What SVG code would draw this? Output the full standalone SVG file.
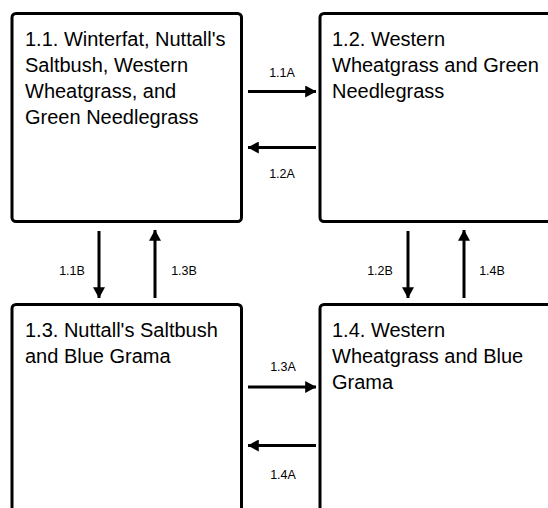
<svg xmlns="http://www.w3.org/2000/svg" width="548" height="508" viewBox="0 0 548 508">
<defs>
<marker id="ah" markerWidth="4" markerHeight="4" refX="3.6" refY="2" orient="auto" markerUnits="strokeWidth">
<path d="M0,0 L3.7,2 L0,4 Z" fill="#000"/>
</marker>
<style>
.box{fill:#fff;stroke:#000;stroke-width:3}
.t{font-family:"Liberation Sans",Arial,sans-serif;font-size:20px;fill:#000}
.l{font-family:"Liberation Sans",Arial,sans-serif;font-size:12.5px;fill:#000;text-anchor:middle}
.c{stroke:#000;stroke-width:3;fill:none;marker-end:url(#ah)}
</style>
</defs>
<rect width="548" height="508" fill="#fff"/>
<g id="n11">
<rect class="box" x="12" y="13.5" width="229.5" height="208" rx="4"/>
<text class="t" x="25" y="46">1.1. Winterfat, Nuttall's</text>
<text class="t" x="25" y="72">Saltbush, Western</text>
<text class="t" x="25" y="98">Wheatgrass, and</text>
<text class="t" x="25" y="124">Green Needlegrass</text>
</g>
<g id="n12">
<rect class="box" x="320" y="13.5" width="240" height="208" rx="4"/>
<text class="t" x="332" y="46">1.2. Western</text>
<text class="t" x="332" y="72">Wheatgrass and Green</text>
<text class="t" x="332" y="98">Needlegrass</text>
</g>
<g id="n13">
<rect class="box" x="12" y="304.5" width="229.5" height="220" rx="4"/>
<text class="t" x="25" y="337">1.3. Nuttall's Saltbush</text>
<text class="t" x="25" y="363">and Blue Grama</text>
</g>
<g id="n14">
<rect class="box" x="320" y="304.5" width="240" height="220" rx="4"/>
<text class="t" x="332" y="337">1.4. Western</text>
<text class="t" x="332" y="363">Wheatgrass and Blue</text>
<text class="t" x="332" y="389">Grama</text>
</g>
<g id="connectors">
<line class="c" x1="248" y1="91.5" x2="316" y2="91.5"/>
<line class="c" x1="316" y1="147.5" x2="248" y2="147.5"/>
<line class="c" x1="99" y1="231" x2="99" y2="298"/>
<line class="c" x1="155" y1="298" x2="155" y2="230"/>
<line class="c" x1="408" y1="231" x2="408" y2="298"/>
<line class="c" x1="464" y1="298" x2="464" y2="230"/>
<line class="c" x1="248" y1="387" x2="316" y2="387"/>
<line class="c" x1="316" y1="445.5" x2="248" y2="445.5"/>
<text class="l" x="282" y="77">1.1A</text>
<text class="l" x="282" y="178">1.2A</text>
<text class="l" x="72" y="275">1.1B</text>
<text class="l" x="184" y="275">1.3B</text>
<text class="l" x="380" y="275">1.2B</text>
<text class="l" x="492" y="275">1.4B</text>
<text class="l" x="283" y="371">1.3A</text>
<text class="l" x="283" y="479">1.4A</text>
</g>
</svg>
